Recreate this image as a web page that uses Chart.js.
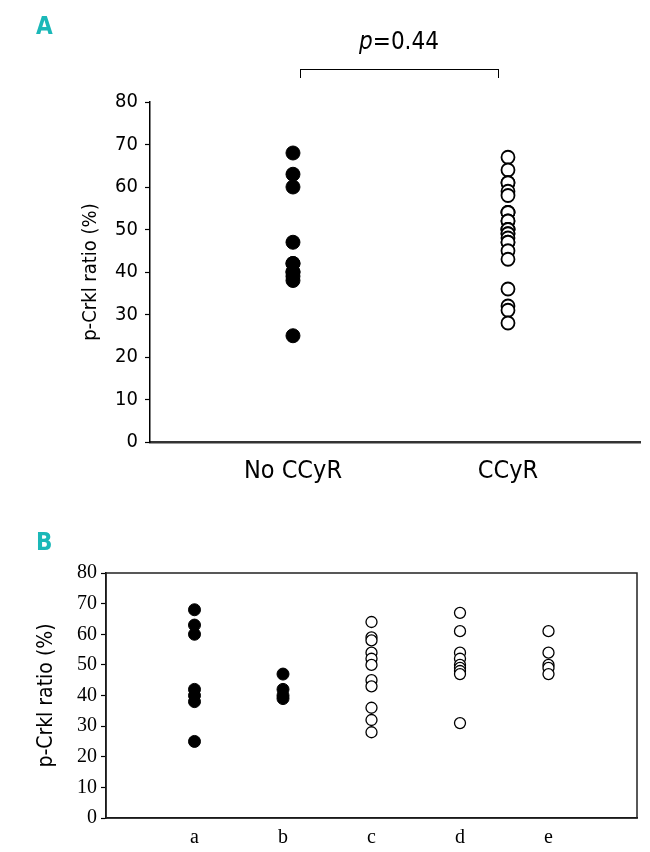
<!DOCTYPE html>
<html>
<head>
<meta charset="utf-8">
<script src="https://cdn.jsdelivr.net/npm/chart.js@4.4.0/dist/chart.umd.min.js"></script>
<style>
  body { margin: 0; background: #fff; width: 650px; height: 852px; position: relative; overflow: hidden; }
  .panel { position: absolute; left: 0; }
  .letter { position: absolute; color: #1bb8b8; font: bold 24px "Liberation Sans Narrow", "DejaVu Sans Condensed", sans-serif; }
  #pval { position: absolute; left: 300px; width: 198px; top: 27px; text-align: center;
          font: 24px "Liberation Sans Narrow", "DejaVu Sans Condensed", sans-serif; }
  #bracket { position: absolute; left: 300px; top: 69px; width: 197px; height: 8px;
             border: 1.5px solid #000; border-bottom: none; }
</style>
</head>
<body>
<div class="panel" style="top:0"><canvas id="chart-a" width="650" height="500"></canvas></div>
<div class="panel" style="top:520px"><canvas id="chart-b" width="650" height="332"></canvas></div>
<div class="letter" style="left:36px; top:12px">A</div>
<div class="letter" style="left:36px; top:528px">B</div>
<div id="pval"><i>p</i>=0.44</div>
<div id="bracket"></div>
<script>
// panel A groups
var categoriesA = ["No CCyR", "CCyR"];
var noCcyr = [68, 63, 60, 47, 42, 42, 40, 40, 39, 38, 25];
var ccyr = [67, 64, 61, 61, 59, 58, 54, 54, 54, 52, 52, 50, 50, 50, 49, 49, 48, 47, 47, 45, 43, 36, 32, 31, 28];

// panel B groups
var categoriesB = ["a", "b", "c", "d", "e"];
var groupA = [68, 63, 60, 42, 40, 38, 25];
var groupB = [47, 42, 40, 39];
var groupC = [64, 59, 58, 54, 52, 50, 45, 43, 36, 32, 28];
var groupD = [67, 61, 54, 52, 50, 49, 48, 47, 31];
var groupE = [61, 54, 50, 49, 47];

var yTicks = [0, 10, 20, 30, 40, 50, 60, 70, 80];

var sans = '"Liberation Sans Narrow", "DejaVu Sans Condensed", sans-serif';
var serif = '"Liberation Serif", "DejaVu Serif", serif';

function pts(xPos, values) {
    return values.map(function(v) { return {x: xPos, y: v}; });
}

function filled(data, r) {
    return {data: data, pointRadius: r, pointBackgroundColor: "#000", pointBorderColor: "#000", pointBorderWidth: 1};
}
function hollow(data, r, bw) {
    return {data: data, pointRadius: r, pointBackgroundColor: "#fff", pointBorderColor: "#000", pointBorderWidth: bw};
}

function yScale(width, fontFamily, titleSize, titlePad, tickPad) {
    return {
        min: 0, max: 80,
        afterBuildTicks: function(scale) {
            scale.ticks = yTicks.map(function(v) { return {value: v}; });
        },
        afterFit: function(scale) { scale.width = width; },
        grid: {drawOnChartArea: false, tickLength: 5, tickColor: "#000", tickWidth: 1.2},
        border: {display: true, color: "#000", width: 1.5},
        ticks: {color: "#000", padding: tickPad, font: {family: fontFamily, size: 20}},
        title: {display: true, text: "p-Crkl ratio (%)", color: "#000",
                font: {family: sans, size: titleSize}, padding: {top: titlePad, bottom: 0}}
    };
}

// panel A
var datasetsA = [
    filled(pts(1, noCcyr), 7),
    hollow(pts(2, ccyr), 6.5, 1.8)
];

new Chart(document.getElementById("chart-a"), {
    type: "scatter",
    data: {datasets: datasetsA},
    options: {
        responsive: false,
        animation: false,
        layout: {padding: {top: 102, right: 10, left: 0, bottom: 0}},
        plugins: {legend: {display: false}, tooltip: {enabled: false}},
        scales: {
            x: {
                min: 0.335, max: 2.614,
                afterBuildTicks: function(scale) {
                    scale.ticks = categoriesA.map(function(c, i) { return {value: i + 1}; });
                },
                afterFit: function(scale) { scale.height = 58; },
                grid: {display: false},
                border: {display: true, color: "#333", width: 2.5},
                ticks: {color: "#000", padding: 6, font: {family: sans, size: 25},
                        callback: function(v) { return categoriesA[v - 1]; }}
            },
            y: yScale(150, sans, 20, 79, 7)
        }
    }
});

// panel B
var datasetsB = [
    filled(pts(1, groupA), 6),
    filled(pts(2, groupB), 6),
    hollow(pts(3, groupC), 5.5, 1.3),
    hollow(pts(4, groupD), 5.5, 1.3),
    hollow(pts(5, groupE), 5.5, 1.3)
];

var boxPlugin = {
    id: "box",
    afterDraw: function(chart) {
        var a = chart.chartArea, ctx = chart.ctx;
        ctx.save();
        ctx.strokeStyle = "#222";
        ctx.lineWidth = 1.5;
        ctx.strokeRect(a.left, a.top, a.right - a.left, a.bottom - a.top);
        ctx.restore();
    }
};

new Chart(document.getElementById("chart-b"), {
    type: "scatter",
    data: {datasets: datasetsB},
    options: {
        responsive: false,
        animation: false,
        layout: {padding: {top: 53, right: 13, left: 0, bottom: 0}},
        plugins: {legend: {display: false}, tooltip: {enabled: false}},
        scales: {
            x: {
                min: 0, max: 6,
                afterBuildTicks: function(scale) {
                    scale.ticks = categoriesB.map(function(c, i) { return {value: i + 1}; });
                },
                afterFit: function(scale) { scale.height = 34; },
                grid: {display: false},
                border: {display: true, color: "#000", width: 1.5},
                ticks: {color: "#000", padding: 0, font: {family: serif, size: 20},
                        callback: function(v) { return categoriesB[v - 1]; }}
            },
            y: yScale(106, serif, 21, 34, 4)
        }
    },
    plugins: [boxPlugin]
});
</script>
</body>
</html>
